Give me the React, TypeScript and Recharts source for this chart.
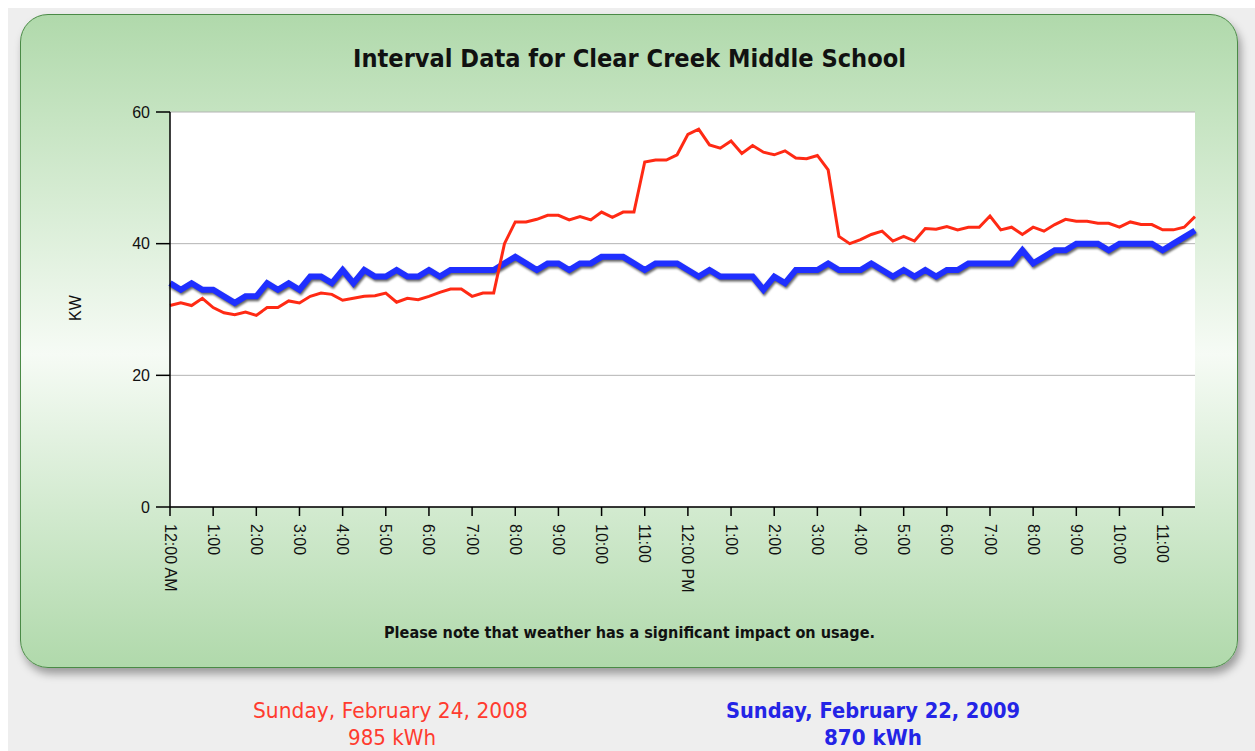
import React from 'react';
import { LineChart, Line, XAxis, YAxis, CartesianGrid } from 'recharts';

// kW every 15 minutes, Sunday February 24, 2008 (red)
const kw2008 = [
  30.6, 31.0, 30.6, 31.7, 30.3, 29.5, 29.2, 29.6, 29.1, 30.3, 30.3, 31.3, 31.0, 32.0, 32.5, 32.3,
  31.4, 31.7, 32.0, 32.1, 32.5, 31.1, 31.7, 31.5, 32.0, 32.6, 33.1, 33.1, 32.0, 32.5, 32.5, 40.0,
  43.3, 43.3, 43.7, 44.3, 44.3, 43.6, 44.1, 43.6, 44.8, 44.0, 44.8, 44.8, 52.4, 52.7, 52.7, 53.5,
  56.6, 57.4, 55.0, 54.5, 55.6, 53.7, 54.9, 53.9, 53.5, 54.1, 53.0, 52.9, 53.4, 51.2, 41.1, 40.0,
  40.6, 41.4, 41.9, 40.4, 41.1, 40.4, 42.3, 42.2, 42.6, 42.1, 42.5, 42.5, 44.2, 42.1, 42.5, 41.4,
  42.5, 41.9, 42.9, 43.7, 43.4, 43.4, 43.1, 43.1, 42.5, 43.3, 42.9, 42.9, 42.1, 42.1, 42.5, 44.1,
];

// kW every 15 minutes, Sunday February 22, 2009 (blue)
const kw2009 = [
  34, 33, 34, 33, 33, 32, 31, 32, 32, 34, 33, 34, 33, 35, 35, 34,
  36, 34, 36, 35, 35, 36, 35, 35, 36, 35, 36, 36, 36, 36, 36, 37,
  38, 37, 36, 37, 37, 36, 37, 37, 38, 38, 38, 37, 36, 37, 37, 37,
  36, 35, 36, 35, 35, 35, 35, 33, 35, 34, 36, 36, 36, 37, 36, 36,
  36, 37, 36, 35, 36, 35, 36, 35, 36, 36, 37, 37, 37, 37, 37, 39,
  37, 38, 39, 39, 40, 40, 40, 39, 40, 40, 40, 40, 39, 40, 41, 42,
];

const hourLabels = [
  '12:00 AM', '1:00', '2:00', '3:00', '4:00', '5:00', '6:00', '7:00', '8:00', '9:00', '10:00', '11:00',
  '12:00 PM', '1:00', '2:00', '3:00', '4:00', '5:00', '6:00', '7:00', '8:00', '9:00', '10:00', '11:00',
];

const yTicks = [0, 20, 40, 60];

const title = 'Interval Data for Clear Creek Middle School';
const note = 'Please note that weather has a significant impact on usage.';
const day2008 = 'Sunday, February 24, 2008';
const total2008 = '985 kWh';
const day2009 = 'Sunday, February 22, 2009';
const total2009 = '870 kWh';

const RED = '#ff2a14';
const BLUE = '#1f2fff';

const pad2 = (n: number) => String(n).padStart(2, '0');
const slots = kw2008.map((_, i) => `${pad2(Math.floor(i / 4))}:${pad2((i % 4) * 15)}`);
const data = slots.map((slot, i) => ({ slot, y2008: kw2008[i], y2009: kw2009[i] }));

const tickFont = "'Liberation Sans', Arial, sans-serif";
const headFont = "'DejaVu Sans', Verdana, sans-serif";

function XTick(props: any) {
  const { x, y, payload } = props;
  const h = parseInt(String(payload.value).slice(0, 2), 10);
  return (
    <g transform={`translate(${x},${y}) rotate(90)`}>
      <text x={0} y={0} textAnchor="start" dominantBaseline="central" fontFamily={tickFont} fontSize={16} fill="#111">
        {hourLabels[h]}
      </text>
    </g>
  );
}

export default function App() {
  return (
    <div style={{ position: 'fixed', left: 8, top: 8, width: 1247, height: 743, background: '#eeeeee', overflow: 'hidden' }}>
      <style>{`path.recharts-line-curve[stroke="${BLUE}"]{filter:drop-shadow(1px 2px 1px rgba(0,0,0,0.6));}`}</style>
      <div
        style={{
          position: 'absolute',
          left: 12,
          top: 6,
          width: 1218,
          height: 654,
          boxSizing: 'border-box',
          border: '1.5px solid #4a8a46',
          borderRadius: 28,
          background: 'linear-gradient(to bottom, #b0d9ab 0%, #c6e4c2 16%, #f6fbf5 52%, #d2eacf 76%, #b0d9ab 100%)',
          boxShadow: '3px 6px 8px rgba(0,0,0,0.35)',
        }}
      />
      <div style={{ position: 'absolute', left: 92, top: 82 }}>
        <LineChart width={1120} height={520} data={data} margin={{ top: 22, right: 25, left: 0, bottom: 13 }}>
          <CartesianGrid horizontal vertical={false} stroke="#b4b4b4" fill="#ffffff" />
          <XAxis
            dataKey="slot"
            interval={3}
            height={90}
            tickSize={9}
            tickMargin={8}
            tick={<XTick />}
            axisLine={{ stroke: '#000', strokeWidth: 1.5 }}
            tickLine={{ stroke: '#000', strokeWidth: 1.5 }}
          />
          <YAxis
            width={70}
            domain={[0, 60]}
            ticks={yTicks}
            tickSize={14}
            tickMargin={6}
            tick={{ fontFamily: tickFont, fontSize: 16, fill: '#111' }}
            axisLine={{ stroke: '#000', strokeWidth: 1.5 }}
            tickLine={{ stroke: '#000', strokeWidth: 1.5 }}
          />
          <Line type="linear" dataKey="y2009" stroke={BLUE} strokeWidth={6} dot={false} activeDot={false} isAnimationActive={false} />
          <Line type="linear" dataKey="y2008" stroke={RED} strokeWidth={3} dot={false} activeDot={false} isAnimationActive={false} />
        </LineChart>
      </div>
      <svg width={1247} height={743} style={{ position: 'absolute', left: 0, top: 0, pointerEvents: 'none' }}>
        <text x={621.5} y={59} textAnchor="middle" fontFamily={headFont} fontWeight="bold" fontSize={24} fill="#111" textLength={553} lengthAdjust="spacingAndGlyphs">
          {title}
        </text>
        <text x={67} y={300} textAnchor="middle" dominantBaseline="central" transform="rotate(-90, 67, 300)" fontFamily={tickFont} fontSize={16} fill="#111">
          KW
        </text>
        <text x={621.5} y={630} textAnchor="middle" fontFamily={headFont} fontWeight="bold" fontSize={16} fill="#111" textLength={491} lengthAdjust="spacingAndGlyphs">
          {note}
        </text>
        <text x={382.5} y={710} textAnchor="middle" fontFamily={headFont} fontSize={21} fill="#ff3b2f" textLength={275} lengthAdjust="spacingAndGlyphs">
          {day2008}
        </text>
        <text x={384} y={737} textAnchor="middle" fontFamily={headFont} fontSize={21} fill="#ff3b2f" textLength={88} lengthAdjust="spacingAndGlyphs">
          {total2008}
        </text>
        <text x={865} y={710} textAnchor="middle" fontFamily={headFont} fontWeight="bold" fontSize={21} fill="#2424e6" textLength={294} lengthAdjust="spacingAndGlyphs">
          {day2009}
        </text>
        <text x={865} y={737} textAnchor="middle" fontFamily={headFont} fontWeight="bold" fontSize={21} fill="#2424e6" textLength={98} lengthAdjust="spacingAndGlyphs">
          {total2009}
        </text>
      </svg>
    </div>
  );
}
